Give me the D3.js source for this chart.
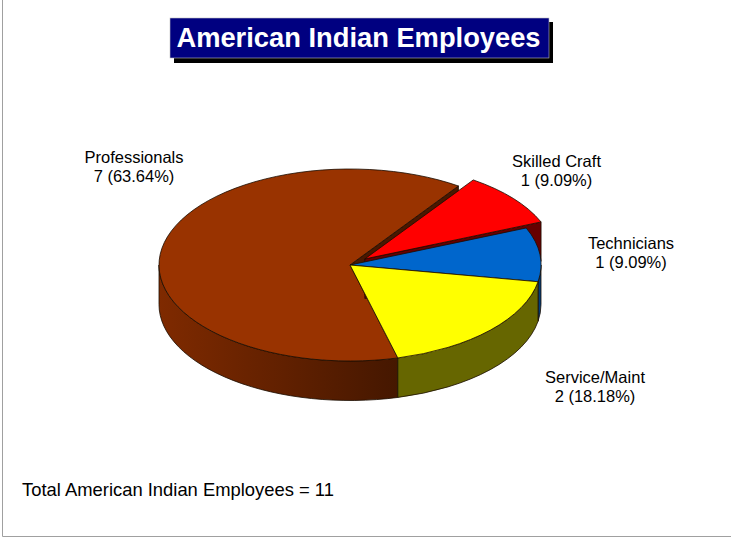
<!DOCTYPE html>
<html>
<head>
<meta charset="utf-8">
<script src="https://cdn.jsdelivr.net/npm/d3@7/dist/d3.min.js"></script>
<style>
  html, body { margin: 0; padding: 0; background: #fff; }
  svg { display: block; }
  text { font-family: "Liberation Sans", Arial, sans-serif; }
</style>
</head>
<body>
<script>
// Values
const categories = ["Professionals", "Skilled Craft", "Technicians", "Service/Maint"];
const counts = [7, 1, 1, 2];
const percents = ["63.64%", "9.09%", "9.09%", "18.18%"];
const topColors = ["#993300", "#ff0000", "#0066cc", "#ffff00"];
const sideColors = ["#4a1800", "#660000", "#003d7a", "#666600"];
const titleText = "American Indian Employees";
const footerText = "Total American Indian Employees = 11";

const width = 731, height = 539;
const cx = 350, cy = 265, rx = 191, ry = 96, depth = 39.5;
const startDeg = 75.5;
const explodeCategory = "Skilled Craft";
const explodeRatio = 0.1;

// label centres, by category
const labelPos = {
  "Professionals": [134, 163],
  "Skilled Craft": [556.5, 167],
  "Technicians": [631, 248.5],
  "Service/Maint": [595, 383],
};

const rad = d => d * Math.PI / 180;

const svg = d3.select("body").append("svg")
  .attr("width", width)
  .attr("height", height);

// frame
svg.append("path")
  .attr("d", `M2.5,0V536.5H${width}`)
  .attr("fill", "none")
  .attr("stroke", "#a0a0a0")
  .attr("stroke-width", 1);

// brown wall shading
const grad = svg.append("defs").append("linearGradient")
  .attr("id", "wallBrown")
  .attr("gradientUnits", "userSpaceOnUse")
  .attr("x1", cx - rx).attr("x2", cx + 48)
  .attr("y1", 0).attr("y2", 0);
grad.append("stop").attr("offset", 0).attr("stop-color", "#7f2a00");
grad.append("stop").attr("offset", 1).attr("stop-color", "#451700");

// pie angles here are clockwise from east, so that the ellipse maps directly
const pie = d3.pie()
  .sort(null)
  .value(d => d.count)
  .startAngle(rad(startDeg))
  .endAngle(rad(startDeg + 360));

const rows = categories.map((name, i) => ({
  name, count: counts[i], pct: percents[i], top: topColors[i], side: sideColors[i],
}));

const slices = pie(rows).map(s => {
  const mid = (s.startAngle + s.endAngle) / 2;
  const k = s.data.name === explodeCategory ? explodeRatio : 0;
  return { ...s, ox: cx + k * rx * Math.cos(mid), oy: cy + k * ry * Math.sin(mid) };
});

const px = (s, a) => s.ox + rx * Math.cos(a);
const py = (s, a) => s.oy + ry * Math.sin(a);

function arcTo(s, a0, a1, dy, sweep) {
  const large = Math.abs(a1 - a0) > Math.PI ? 1 : 0;
  return `A${rx},${ry} 0 ${large} ${sweep} ${px(s, a1)},${py(s, a1) + dy}`;
}

function topPath(s) {
  return `M${s.ox},${s.oy}L${px(s, s.startAngle)},${py(s, s.startAngle)}` +
    arcTo(s, s.startAngle, s.endAngle, 0, 1) + "Z";
}

// radial cut face at angle a
function facePath(s, a) {
  return `M${s.ox},${s.oy}L${px(s, a)},${py(s, a)}` +
    `L${px(s, a)},${py(s, a) + depth}L${s.ox},${s.oy + depth}Z`;
}

// outer wall: only the part of the rim on the near side shows
function wallPath(s) {
  const turn = 2 * Math.PI;
  let a0 = null, a1 = null;
  for (const k of [0, 1]) {
    const lo = Math.max(s.startAngle, k * turn);
    const hi = Math.min(s.endAngle, k * turn + Math.PI);
    if (hi > lo) { a0 = lo; a1 = hi; break; }
  }
  if (a0 === null) return null;
  return `M${px(s, a0)},${py(s, a0)}` + arcTo(s, a0, a1, 0, 1) +
    `L${px(s, a1)},${py(s, a1) + depth}` + arcTo(s, a1, a0, depth, 0) + "Z";
}

const bySlice = name => slices.find(s => s.data.name === name);
const pro = bySlice("Professionals"), craft = bySlice("Skilled Craft");
const tech = bySlice("Technicians"), serv = bySlice("Service/Maint");

const edge = sel => sel.attr("stroke", "#1a0d00").attr("stroke-width", 0.8).attr("stroke-linejoin", "round");
const pieG = svg.append("g");

function shape(d, fill) {
  if (d) pieG.append("path").attr("d", d).attr("fill", fill).call(edge);
}

// back to front
shape(facePath(pro, pro.endAngle), pro.data.side);
shape(wallPath(pro), "url(#wallBrown)");
shape(topPath(pro), pro.data.top);
shape(facePath(craft, craft.endAngle), craft.data.side);
shape(topPath(craft), craft.data.top);
shape(wallPath(tech), tech.data.side);
shape(wallPath(serv), serv.data.side);
shape(topPath(tech), tech.data.top);
shape(topPath(serv), serv.data.top);

// category labels
const labels = svg.append("g")
  .selectAll("text")
  .data(rows)
  .join("text")
  .attr("text-anchor", "middle")
  .attr("font-size", 16.5)
  .attr("fill", "#000");

labels.each(function (d) {
  const [x, y] = labelPos[d.name];
  const t = d3.select(this);
  t.append("tspan").attr("x", x).attr("y", y).text(d.name);
  t.append("tspan").attr("x", x).attr("y", y + 19).text(`${d.count} (${d.pct})`);
});

// title box
svg.append("rect").attr("x", 174).attr("y", 22).attr("width", 379).attr("height", 41).attr("fill", "#000");
svg.append("rect").attr("x", 170).attr("y", 18).attr("width", 379).attr("height", 40)
  .attr("fill", "#000080").attr("stroke", "#c0c0c0").attr("stroke-width", 0.6);
svg.append("text")
  .attr("x", 358.5).attr("y", 47)
  .attr("text-anchor", "middle")
  .attr("font-size", 27.3)
  .attr("font-weight", "bold")
  .attr("fill", "#fff")
  .text(titleText);

svg.append("text")
  .attr("x", 22).attr("y", 496)
  .attr("font-size", 18.4)
  .attr("fill", "#000")
  .text(footerText);
</script>
</body>
</html>
